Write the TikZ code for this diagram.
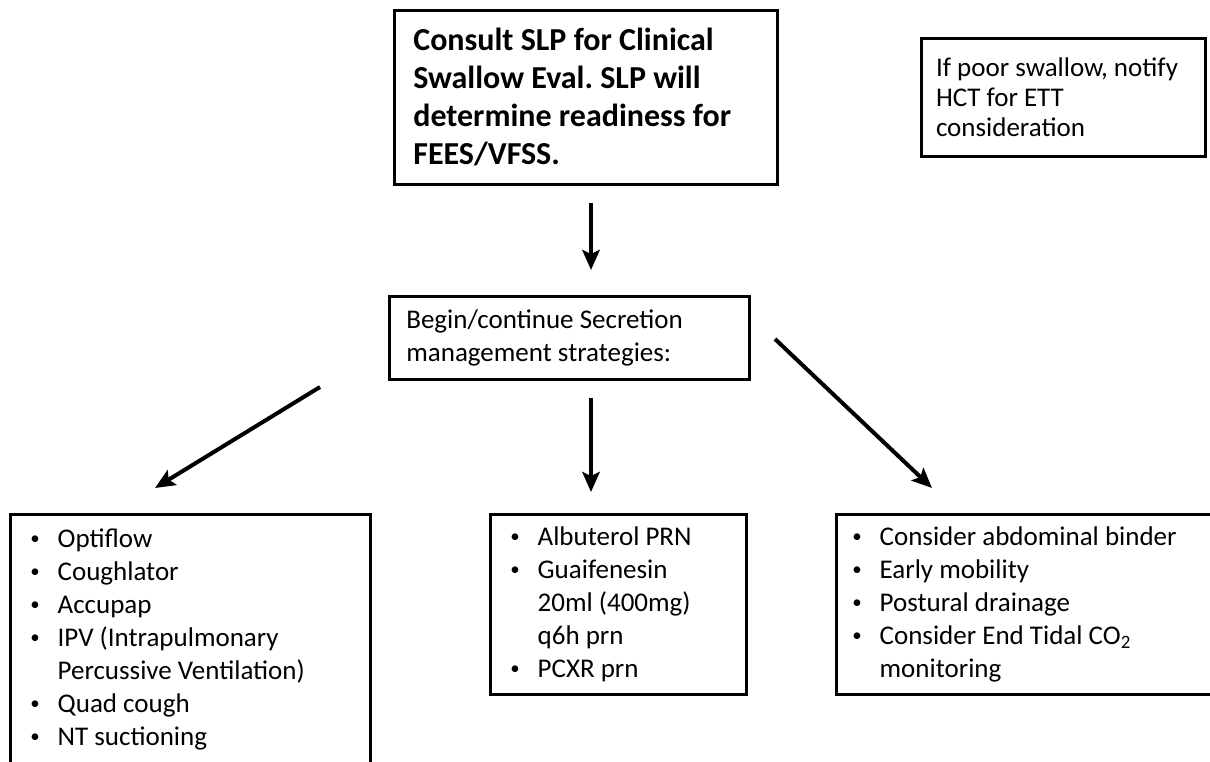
\documentclass[tikz,border=0pt]{standalone}
\usepackage{fontspec}
\setmainfont{Carlito}
\usepackage{tikz}
\usetikzlibrary{arrows.meta,positioning}
\frenchspacing
\hyphenpenalty=10000

\newcommand{\itm}[1]{\makebox[20.5pt][l]{\raisebox{0.12em}{\scalebox{0.7}{\textbullet}}}#1}
\newcommand{\cont}[1]{\hspace*{20.5pt}#1}

\begin{document}
\begin{tikzpicture}[x=0.75pt, y=-0.75pt,
  box/.style={draw, line width=2pt, anchor=north west, align=flush left, inner ysep=0pt},
  txt/.style={font=\fontsize{20.25}{24.75}\selectfont},
  arr/.style={black, line width=3pt, -{Stealth[length=15pt, width=13pt, inset=3pt]}}]
\useasboundingbox (0,0) rectangle (1210,761);
\node[box, minimum width=287.25pt, minimum height=130.5pt, inner xsep=14.25pt, text width=258.75pt,
  font=\fontsize{24}{28.5}\selectfont\bfseries] (consult) at (393,9)
  {Consult SLP for Clinical\\Swallow Eval. SLP will\\determine readiness for\\FEES/VFSS.};
\node[box, minimum width=213pt, minimum height=88.5pt, inner xsep=11pt, text width=191pt,
  font=\fontsize{20.25}{22.5}\selectfont] (notify) at (920,37)
  {If poor swallow, notify\\HCT for ETT\\consideration};
\node[box, txt, minimum width=270pt, minimum height=62.25pt, inner xsep=12.75pt, text width=244.5pt] (secretion) at (388,295)
  {Begin/continue Secretion\\management strategies:};
\node[box, txt, minimum width=270pt, minimum height=188.25pt, inner xsep=15pt, text width=240pt] (airway) at (9,513)
  {\itm{Optiflow}\\\itm{Coughlator}\\\itm{Accupap}\\\itm{IPV (Intrapulmonary}\\
   \cont{Percussive Ventilation)}\\\itm{Quad cough}\\\itm{NT suctioning}};
\node[box, txt, minimum width=192pt, minimum height=135pt, inner xsep=15pt, text width=162pt] (meds) at (489,513)
  {\itm{Albuterol PRN}\\\itm{Guaifenesin}\\\cont{20ml (400mg)}\\\cont{q6h prn}\\\itm{PCXR prn}};
\node[box, txt, minimum width=281.25pt, minimum height=135pt, inner xsep=12pt, text width=257.25pt] (mobility) at (835,513)
  {\itm{Consider abdominal binder}\\\itm{Early mobility}\\\itm{Postural drainage}\\
   \itm{Consider End Tidal CO\textsubscript{2}}\\\cont{monitoring}};
% arrows
\coordinate (down1) at (591,203);
\coordinate (down1end) at (591,270);
\coordinate (left) at (320,387);
\coordinate (leftend) at (155,488);
\coordinate (down2) at (591,398);
\coordinate (down2end) at (591,492);
\coordinate (right) at (775,339);
\coordinate (rightend) at (932,488);
\draw[arr] (down1) -- (down1end);
\draw[arr] (left) -- (leftend);
\draw[arr] (down2) -- (down2end);
\draw[arr] (right) -- (rightend);
\end{tikzpicture}
\end{document}
